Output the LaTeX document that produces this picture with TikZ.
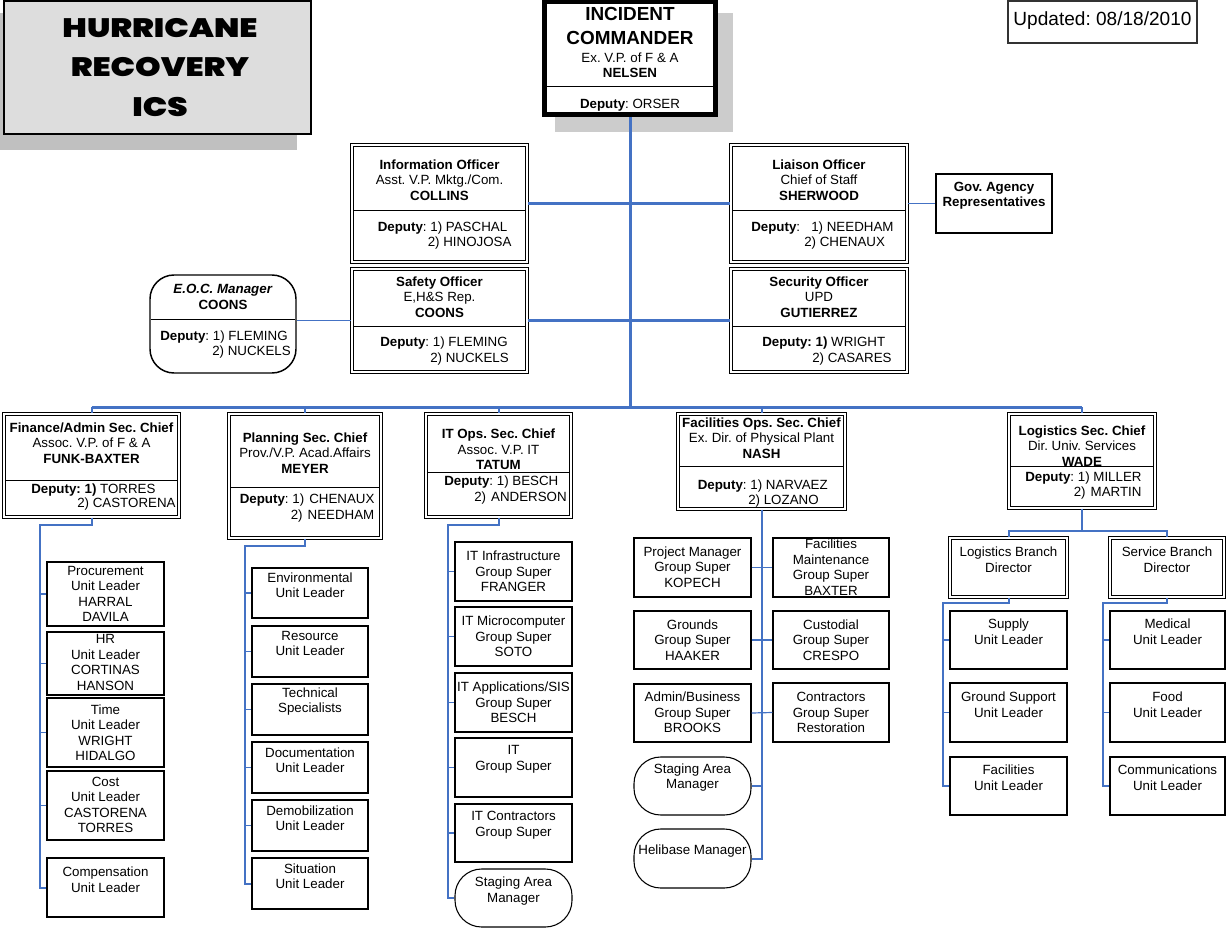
\documentclass[tikz,border=0pt]{standalone}
\usepackage{fontspec}
\setmainfont{Liberation Sans}
\newfontfamily\ttlfont[FakeStretch=1.22]{Poppins Black}
\usetikzlibrary{fit}
\frenchspacing
\definecolor{icsblue}{RGB}{68,114,196}
\definecolor{titlegray}{RGB}{221,221,221}
\definecolor{shadowgray}{RGB}{192,192,192}
\definecolor{shadowgrayb}{RGB}{204,204,204}
\tikzset{
 trunkline/.style={draw=icsblue, line width=2.25pt},
 midline/.style={draw=icsblue, line width=1.9pt},
 colline/.style={draw=icsblue, line width=1.5pt},
 tickline/.style={draw=icsblue, line width=0.9pt},
 unitbox/.style={draw=black, line width=0.8pt, fill=white, inner sep=0pt},
 stagebox/.style={unitbox, rounded corners=20pt},
 hdrbox/.style={draw=black, line width=0.8pt, double=white, double distance=1.1pt, fill=white, inner sep=0pt},
 eocbox/.style={draw=black, line width=1.1pt, rounded corners=18pt, fill=white, inner sep=0pt},
 txt/.style={font=\fontsize{10}{11.6}\selectfont, align=center, inner sep=0pt},
 dep/.style={font=\fontsize{10}{11.6}\selectfont, inner sep=0pt, anchor=west, text height=7.2pt, text depth=0pt},
 ttl/.style={font=\ttlfont\fontsize{20}{29.5}\selectfont, align=center, inner sep=0pt},
 divline/.style={draw=black, line width=0.75pt},
}
\newcommand\mkhdr[6]{%
  \node[hdrbox, fit={(#2,#3) (#4,#5)}] (#1) {};
  \draw[divline] ({#2+2},#6) -- ({#4-2},#6);}
\newcommand\mkunit[8][unitbox]{%
  \node[#1, fit={(#3,#4) (#5,#6)}] (#2) {};
  \node[txt] (#2-t) at ({(#3+#5)/2},#7) {#8};}
\begin{document}
\begin{tikzpicture}[x=0.75pt,y=-0.75pt]
\useasboundingbox (0,0) rectangle (1227,930);

% ---- title
\fill[shadowgray] (-10,13) rectangle (297,150);
\node[fit={(4,1) (311,134)}, draw=black, line width=1.8pt, fill=titlegray, inner sep=0pt] (title) {};
\node[ttl] (title-t) at (160,67.5) {HURRICANE\\RECOVERY\\ICS};

% ---- updated
\node[fit={(1008,1) (1197,43)}, draw=black!80, line width=0.8pt, inner sep=0pt] (upd) {};
\node[font=\fontsize{14.3}{16}\selectfont, inner sep=0pt] (upd-t) at (1102.5,21) {Updated: 08/18/2010};

% ---- incident commander
\fill[shadowgrayb] (555,13) rectangle (733,132);
\node[fit={(544.5,2) (715.5,114.5)}, draw=black, line width=3.75pt, fill=white, inner sep=0pt] (ic) {};
\draw[divline] (546,87) -- (714,87);
\node[font=\bfseries\fontsize{14.2}{18}\selectfont, align=center, inner sep=0pt] (ic-t) at (630,26) {INCIDENT\\COMMANDER};
\node[txt] (ic-t2) at (630,65.5) {Ex. V.P. of F \& A\\\textbf{NELSEN}};
\node[txt] (ic-d) at (630,105) {\textbf{Deputy}: ORSER};

% ---- command staff
\mkhdr{info}{352}{145}{527}{262}{211}
\node[txt] (info-t) at (439.5,180) {\textbf{Information Officer}\\Asst. V.P. Mktg./Com.\\\textbf{COLLINS}};
\node[dep] (info-d1) at (377.5,227) {\textbf{Deputy}: 1) PASCHAL};
\node[dep] (info-d2) at (427.5,242) {2) HINOJOSA};

\mkhdr{liai}{731}{145}{907}{262}{211}
\node[txt] (liai-t) at (819,180) {\textbf{Liaison Officer}\\Chief of Staff\\\textbf{SHERWOOD}};
\node[dep] (liai-d1) at (751,227) {\textbf{Deputy}:\ \ \ 1) NEEDHAM};
\node[dep] (liai-d2) at (804,242) {2) CHENAUX};

\node[unitbox, fit={(936,174) (1052,233)}] (gov) {};
\node[txt] (gov-t) at (994,195.5) {\textbf{Gov. Agency}\\\textbf{Representatives}};

\mkhdr{saf}{352}{269}{527}{372}{327}
\node[txt] (saf-t) at (439.5,297) {\textbf{Safety Officer}\\E,H\&S Rep.\\\textbf{COONS}};
\node[dep] (saf-d1) at (380,342) {\textbf{Deputy}: 1) FLEMING};
\node[dep] (saf-d2) at (430,358) {2) NUCKELS};

\mkhdr{sec}{731}{269}{907}{372}{327}
\node[txt] (sec-t) at (819,297) {\textbf{Security Officer}\\UPD\\\textbf{GUTIERREZ}};
\node[dep] (sec-d1) at (762,342) {\textbf{Deputy: 1)} WRIGHT};
\node[dep] (sec-d2) at (812,358) {2) CASARES};

\node[eocbox, fit={(150,275) (296,373)}] (eoc) {};
\draw[divline] (151,320) -- (295,320);
\node[txt] (eoc-t) at (223,297) {\textbf{\textit{E.O.C. Manager}}\\\textbf{COONS}};
\node[dep] (eoc-d1) at (160,336) {\textbf{Deputy}: 1) FLEMING};
\node[dep] (eoc-d2) at (212,351) {2) NUCKELS};

% ---- section chiefs
\mkhdr{fin}{4}{414}{179}{517}{480}
\node[txt] (fin-t) at (91.5,443) {\textbf{Finance/Admin Sec. Chief}\\Assoc. V.P. of F \& A\\\textbf{FUNK-BAXTER}};
\node[dep] (fin-d1) at (31,489) {\textbf{Deputy: 1)} TORRES};
\node[dep] (fin-d2) at (77,503) {2) CASTORENA};

\mkhdr{pla}{229}{414}{381}{538}{487}
\node[txt] (pla-t) at (305,453) {\textbf{Planning Sec. Chief}\\Prov./V.P. Acad.Affairs\\\textbf{MEYER}};
\node[dep] (pla-d1) at (239.5,499) {\textbf{Deputy}: 1)\ \kern1pt CHENAUX};
\node[dep] (pla-d2) at (290.5,515) {2)\ \kern1pt NEEDHAM};

\mkhdr{it}{426}{414}{571}{517}{472}
\node[txt] (it-t) at (498.5,449.5) {\textbf{IT Ops. Sec. Chief}\\Assoc. V.P. IT\\\textbf{TATUM}};
\node[dep] (it-d1) at (444,481) {\textbf{Deputy}: 1) BESCH};
\node[dep] (it-d2) at (474,497) {2)\ \kern1pt ANDERSON};

\mkhdr{fac}{678}{414}{845}{509}{466}
\node[txt] (fac-t) at (761.5,438) {\textbf{Facilities Ops. Sec. Chief}\\Ex. Dir. of Physical Plant\\\textbf{NASH}};
\node[dep] (fac-d1) at (697.5,485) {\textbf{Deputy}: 1) NARVAEZ};
\node[dep] (fac-d2) at (748,500) {2) LOZANO};

\mkhdr{log}{1009}{414}{1155}{508}{466}
\node[txt] (log-t) at (1082,446) {\textbf{Logistics Sec. Chief}\\Dir. Univ. Services\\\textbf{WADE}};
\node[dep] (log-d1) at (1025,477) {\textbf{Deputy}: 1) MILLER};
\node[dep] (log-d2) at (1073.5,492) {2)\ \kern1pt MARTIN};

% ---- finance units
\mkunit{proc}{47}{562}{164}{626}{594}{Procurement\\Unit Leader\\HARRAL\\DAVILA}
\mkunit{hr}{47}{632}{164}{695}{662.5}{HR\\Unit Leader\\CORTINAS\\HANSON}
\mkunit{time}{47}{698}{164}{767}{732.5}{Time\\Unit Leader\\WRIGHT\\HIDALGO}
\mkunit{cost}{47}{771}{164}{840}{805}{Cost\\Unit Leader\\CASTORENA\\TORRES}
\mkunit{comp}{47}{858}{164}{917}{879.5}{Compensation\\Unit Leader}

% ---- planning units
\mkunit{env}{252}{568}{368}{618}{585}{Environmental\\Unit Leader}
\mkunit{res}{252}{626}{368}{677}{643.5}{Resource\\Unit Leader}
\mkunit{tech}{252}{684}{368}{735}{701.5}{Technical\\Specialists}
\mkunit{doc}{252}{742}{368}{793}{760}{Documentation\\Unit Leader}
\mkunit{demob}{252}{800}{368}{851}{818}{Demobilization\\Unit Leader}
\mkunit{sit}{252}{858}{368}{909}{876}{Situation\\Unit Leader}

% ---- IT units
\mkunit{itinf}{455}{542}{572}{601}{571.5}{IT Infrastructure\\Group Super\\FRANGER}
\mkunit{itmic}{455}{607}{572}{666}{636.5}{IT Microcomputer\\Group Super\\SOTO}
\mkunit{itapp}{455}{673}{572}{732}{702.5}{IT Applications/SIS\\Group Super\\BESCH}
\mkunit{itgs}{455}{738}{572}{797}{759.5}{IT\\Group Super}
\mkunit{itcon}{455}{804}{572}{862}{825}{IT Contractors\\Group Super}
\mkunit[stagebox]{itstg}{455}{869}{572}{927}{891}{Staging Area\\Manager}

% ---- facilities units
\mkunit{pm}{634}{538}{751}{597}{567}{Project Manager\\Group Super\\KOPECH}
\mkunit{grd}{634}{611}{751}{669}{640}{Grounds\\Group Super\\HAAKER}
\mkunit{adm}{634}{684}{751}{742}{712.5}{Admin/Business\\Group Super\\BROOKS}
\mkunit[stagebox]{fstg}{634}{757}{751}{815}{777.5}{Staging Area\\Manager}
\mkunit[stagebox]{heli}{634}{829}{751}{888}{851}{Helibase Manager}
\mkunit{fmt}{773}{538}{889}{597}{567}{Facilities\\Maintenance\\Group Super\\BAXTER}
\mkunit{cus}{773}{611}{889}{669}{640}{Custodial\\Group Super\\CRESPO}
\mkunit{fcon}{773}{683}{889}{742}{712.5}{Contractors\\Group Super\\Restoration}

% ---- logistics
\mkunit[hdrbox]{lbd}{950}{538}{1067}{597}{559.5}{Logistics Branch\\Director}
\mkunit[hdrbox]{sbd}{1110}{538}{1224}{597}{559.5}{Service Branch\\Director}
\mkunit{sup}{950}{611}{1067}{669}{631.5}{Supply\\Unit Leader}
\mkunit{gsu}{950}{683}{1067}{742}{704.5}{Ground Support\\Unit Leader}
\mkunit{lfac}{950}{757}{1067}{815}{777.5}{Facilities\\Unit Leader}
\mkunit{med}{1110}{611}{1225}{669}{631.5}{Medical\\Unit Leader}
\mkunit{food}{1110}{683}{1225}{742}{704.5}{Food\\Unit Leader}
\mkunit{comm}{1110}{757}{1225}{815}{777.5}{Communications\\Unit Leader}

% ---- connectors: command
\coordinate (barc) at (630,407);
\draw[midline] (info.east) -- (liai.west);
\draw[midline] (saf.east) -- (sec.west);
\draw[draw=icsblue, line width=1.1pt] (eoc.east |- saf.west) -- (saf.west);
\draw[draw=icsblue, line width=1.1pt] (liai.east |- gov.west) -- (gov.west);
\draw[trunkline] (ic.south) -- (barc);
\draw[trunkline] (fin.north |- barc) -- (log.north |- barc);
\foreach \n in {fin,pla,it,fac,log} \draw[colline] (\n.north |- barc) -- (\n.north);

% ---- finance column
\coordinate (fj) at (40,525);
\draw[colline] (fin.south) |- (fj) |- (comp.west);
\foreach \n in {proc,hr,time,cost} \draw[tickline] (fj |- \n.west) -- (\n.west);

% ---- planning column
\coordinate (pj) at (245,546);
\draw[colline] (pla.south) |- (pj) |- (sit.west);
\foreach \n in {env,res,tech,doc,demob} \draw[tickline] (pj |- \n.west) -- (\n.west);

% ---- IT column
\coordinate (ij) at (448,525);
\draw[colline] (it.south) |- (ij) |- (itstg.west);
\foreach \n in {itinf,itmic,itapp,itgs,itcon} \draw[tickline] (ij |- \n.west) -- (\n.west);

% ---- facilities column
\draw[colline] (fac.south) -- (fac.south |- heli.east) -- (heli.east);
\draw[tickline] (pm.east) -- (fmt.west);
\draw[tickline] (grd.east) -- (cus.west);
\draw[tickline] (adm.east) -- (fcon.west);
\draw[tickline] (fstg.east) -- (fstg.east -| fac.south);

% ---- logistics
\coordinate (lj) at (1082,531);
\draw[colline] (log.south) -- (lj);
\draw[colline] (lbd.north) |- (lj) -| (sbd.north);
\coordinate (lbj) at (943,603);
\draw[colline] (lbd.south) |- (lbj) |- (lfac.west);
\foreach \n in {sup,gsu} \draw[tickline] (lbj |- \n.west) -- (\n.west);
\coordinate (sbj) at (1103,603);
\draw[colline] (sbd.south) |- (sbj) |- (comm.west);
\foreach \n in {med,food} \draw[tickline] (sbj |- \n.west) -- (\n.west);
\end{tikzpicture}
\end{document}
